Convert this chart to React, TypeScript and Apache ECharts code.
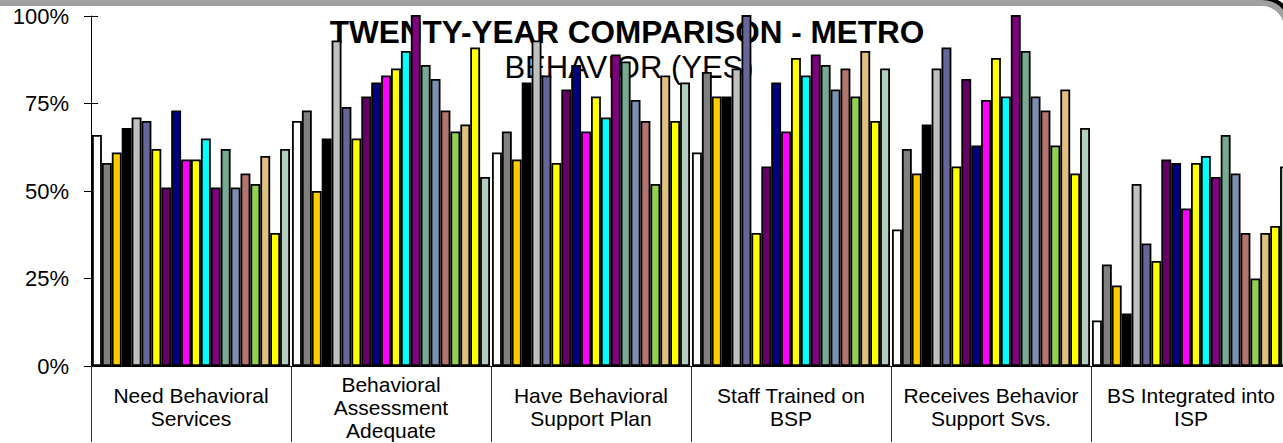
import React, { useEffect, useRef } from "react";
import * as echarts from "echarts";

const categories = [
  "Need Behavioral\nServices",
  "Behavioral\nAssessment\nAdequate",
  "Have Behavioral\nSupport Plan",
  "Staff Trained on\nBSP",
  "Receives Behavior\nSupport Svs.",
  "BS Integrated into\nISP",
];

const seriesNames = [
  "Year 1", "Year 2", "Year 3", "Year 4", "Year 5",
  "Year 6", "Year 7", "Year 8", "Year 9", "Year 10",
  "Year 11", "Year 12", "Year 13", "Year 14", "Year 15",
  "Year 16", "Year 17", "Year 18", "Year 19", "Year 20",
];

const seriesColors = [
  "#FFFFFF", "#808080", "#FFCC00", "#000000", "#C0C0C0",
  "#666699", "#FFFF00", "#660066", "#000080", "#FF00FF",
  "#FFFF00", "#00FFFF", "#800080", "#76AB91", "#7B91B1",
  "#B47470", "#92D050", "#E0C07E", "#FFFF00", "#B3CDBF",
];

// values per category, one per year (in series order)
const needBehavioral = [66, 58, 61, 68, 71, 70, 62, 51, 73, 59, 59, 65, 51, 62, 51, 55, 52, 60, 38, 62];
const assessmentAdequate = [70, 73, 50, 65, 93, 74, 65, 77, 81, 83, 85, 90, 101, 86, 82, 73, 67, 69, 91, 54];
const haveSupportPlan = [61, 67, 59, 81, 93, 83, 58, 79, 86, 67, 77, 71, 89, 87, 76, 70, 52, 83, 70, 81];
const staffTrained = [61, 84, 77, 77, 85, 101, 38, 57, 81, 67, 88, 83, 89, 86, 79, 85, 77, 90, 70, 85];
const receivesSupport = [39, 62, 55, 69, 85, 91, 57, 82, 63, 76, 88, 77, 101, 90, 77, 73, 63, 79, 55, 68];
const bsIntegrated = [13, 29, 23, 15, 52, 35, 30, 59, 58, 45, 58, 60, 54, 66, 55, 38, 25, 38, 40, 57];

const categoryValues = [
  needBehavioral,
  assessmentAdequate,
  haveSupportPlan,
  staffTrained,
  receivesSupport,
  bsIntegrated,
];

const yTicks = { min: 0, max: 100, interval: 25 };

const titleText = "TWENTY-YEAR COMPARISON - METRO";
const subtitleText = "BEHAVIOR (YES)";

const FONT = "'Liberation Sans', Arial, sans-serif";

export default function App() {
  const ref = useRef<HTMLDivElement>(null);

  useEffect(() => {
    if (!ref.current) return;
    const chart = echarts.init(ref.current, null, { renderer: "svg" });

    const series = seriesNames.map((name, i) => ({
      name,
      type: "bar",
      data: categoryValues.map((vals) => vals[i]),
      barGap: "0%",
      barCategoryGap: "1%",
      z: 2,
      itemStyle: {
        color: seriesColors[i],
        borderColor: "#000",
        borderWidth: 1.8,
      },
    }));

    chart.setOption({
      animation: false,
      backgroundColor: "#fff",
      textStyle: { fontFamily: FONT },
      grid: { left: 91, top: 16, width: 1200, height: 350, containLabel: false },
      xAxis: {
        type: "category",
        data: categories,
        axisLine: { show: true, lineStyle: { color: "#000", width: 1 } },
        axisTick: { show: true, length: 76, lineStyle: { color: "#333", width: 1 } },
        axisLabel: {
          interval: 0,
          fontSize: 21,
          lineHeight: 23,
          color: "#000",
          fontFamily: FONT,
          verticalAlign: "middle",
          margin: 41,
        },
        splitLine: { show: false },
      },
      yAxis: [
        {
          type: "value",
          min: yTicks.min,
          max: yTicks.max,
          interval: yTicks.interval,
          position: "left",
          axisLine: { show: true, lineStyle: { color: "#000", width: 1 } },
          axisTick: { show: true, length: 7, lineStyle: { color: "#000" } },
          axisLabel: {
            formatter: "{value}%",
            fontSize: 22,
            color: "#000",
            fontFamily: FONT,
            margin: 22,
          },
          splitLine: { show: false },
        },
        {
          type: "value",
          min: yTicks.min,
          max: yTicks.max,
          interval: yTicks.interval,
          position: "left",
          axisLine: { show: false },
          axisTick: { show: true, inside: true, length: 7, lineStyle: { color: "#000" } },
          axisLabel: { show: false },
          splitLine: { show: false },
        },
      ],
      graphic: [
        {
          type: "rect",
          z: 0,
          shape: { x: -27, y: 0, width: 1317, height: 600, r: 25 },
          style: { fill: "none", stroke: "#000", lineWidth: 6 },
        },
        {
          type: "rect",
          z: 1,
          shape: { x: -30, y: 3, width: 1317, height: 600, r: 25 },
          style: { fill: "none", stroke: "#A0A0A0", lineWidth: 6 },
        },
        {
          type: "text",
          z: 0,
          x: 627,
          y: 32,
          style: {
            text: titleText,
            fontSize: 31.5,
            fontWeight: "bold",
            fontFamily: FONT,
            fill: "#000",
            textAlign: "center",
            textVerticalAlign: "middle",
          },
        },
        {
          type: "text",
          z: 0,
          x: 629,
          y: 67,
          style: {
            text: subtitleText,
            fontSize: 31,
            fontFamily: FONT,
            fill: "#000",
            textAlign: "center",
            textVerticalAlign: "middle",
          },
        },
      ],
      series,
    });

    return () => chart.dispose();
  }, []);

  return (
    <div
      style={{
        position: "fixed",
        left: 0,
        top: 0,
        width: 1283,
        height: 443,
        overflow: "hidden",
        background: "#fff",
      }}
    >
      <div ref={ref} style={{ width: 1300, height: 443 }} />
    </div>
  );
}
